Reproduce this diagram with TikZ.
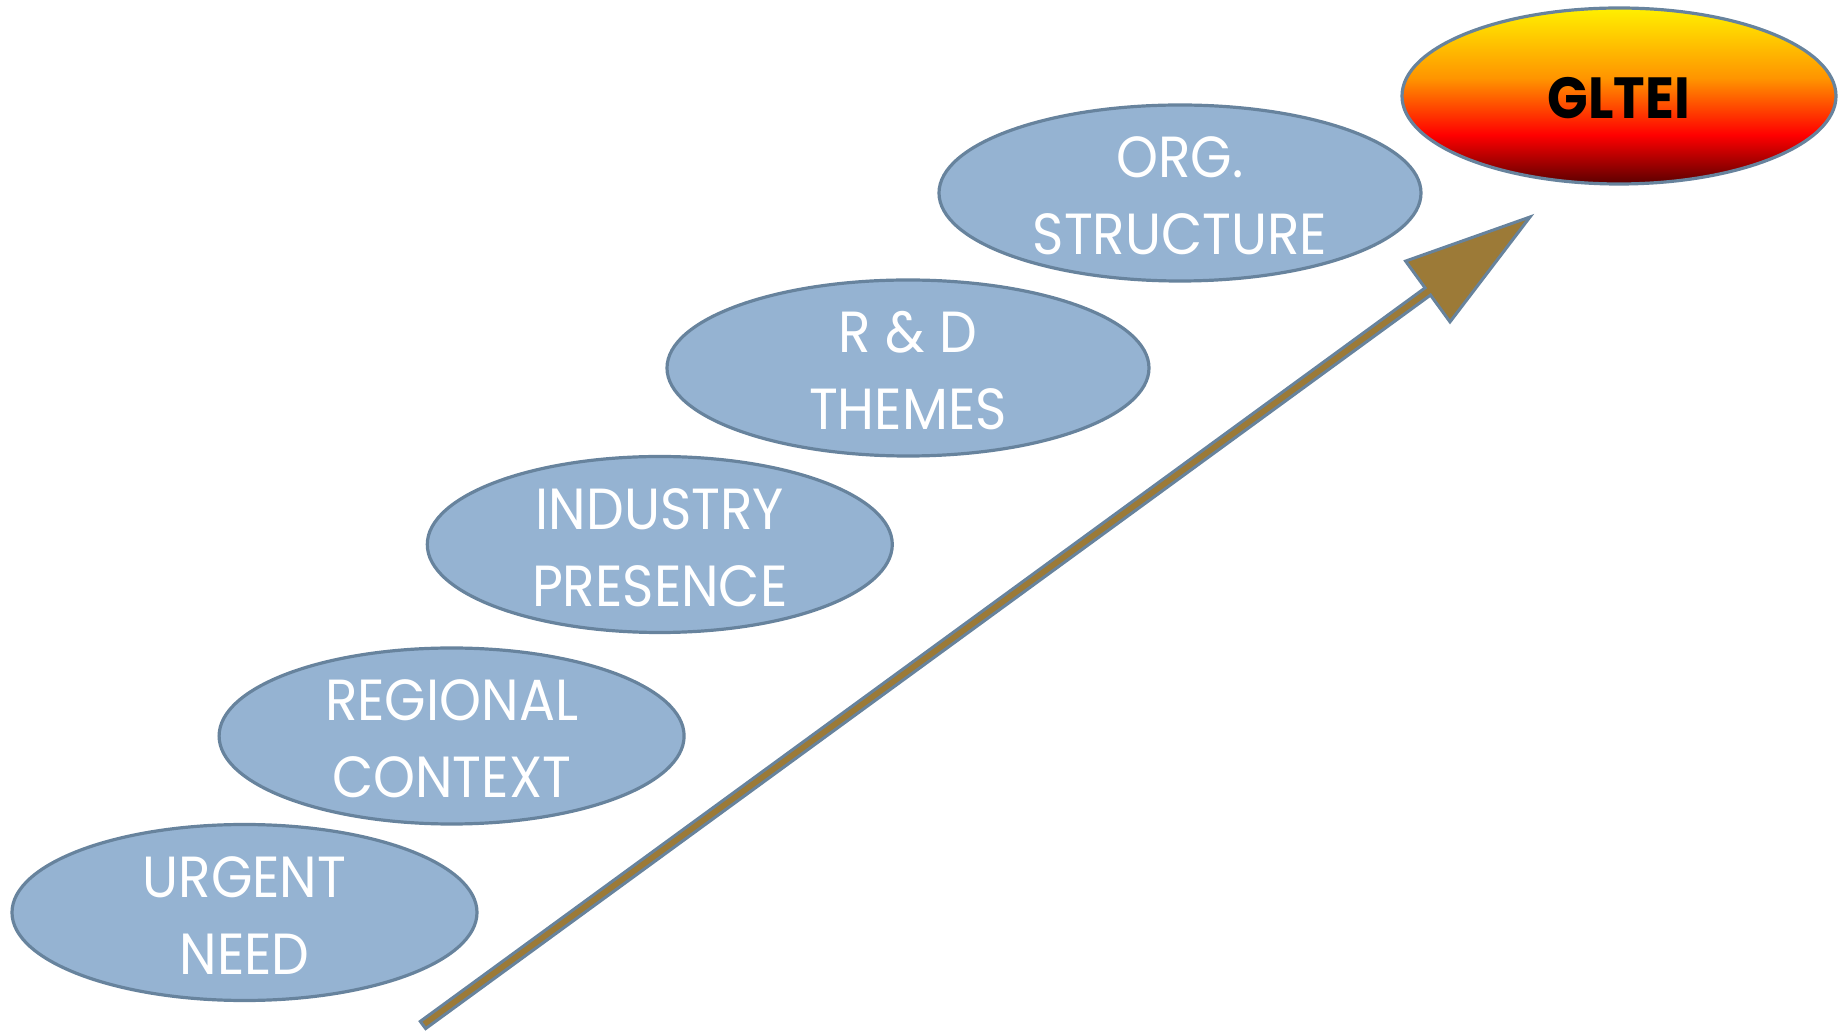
\documentclass[tikz,border=0pt]{standalone}
\usepackage{fontspec}
\setmainfont{Poppins}[FakeStretch=0.92]
\usetikzlibrary{shapes.geometric}
\definecolor{ellfill}{HTML}{95B3D2}
\definecolor{ellline}{HTML}{67839D}
\definecolor{arrfill}{HTML}{9C7A37}
\definecolor{gdark}{HTML}{5A0000}
\definecolor{gred}{HTML}{FF0000}
\definecolor{gorange}{HTML}{FF9400}
\definecolor{gyellow}{HTML}{FFF000}
\pgfdeclareverticalshading{glteishade}{100bp}{color(0bp)=(gdark); color(25bp)=(gdark); color(39bp)=(gred); color(55bp)=(gorange); color(75bp)=(gyellow); color(100bp)=(gyellow)}
\tikzset{
  stage/.style={ellipse, draw=ellline, line width=1.6pt, fill=ellfill,
    minimum width=232.5pt, minimum height=88pt, inner sep=0pt},
  stagetext/.style={align=center, text=white, inner sep=0pt, yshift=-1.5pt,
    font=\fontsize{29}{38.5}\selectfont},
  goal/.style={ellipse, draw=ellline, line width=1.6pt, shading=glteishade,
    minimum width=217pt, minimum height=88pt, inner sep=0pt},
  goaltext/.style={inner sep=0pt, text=black, yshift=-1pt, font=\fontsize{29}{34}\selectfont\bfseries},
  growth/.style={draw=ellline, line width=1.5pt, fill=arrfill, line join=miter}
}
\begin{document}
\begin{tikzpicture}[x=0.5pt,y=-0.5pt]
\useasboundingbox (0,0) rectangle (1844,1031);
\node[stage] (s1) at (244.5,912.5) {};
\node[stage] (s2) at (451.6,736) {};
\node[stage] (s3) at (659.8,544.5) {};
\node[stage, minimum width=241pt] (s4) at (908,368) {};
\node[stage, minimum width=241pt] (s5) at (1180,193) {};
\node[goal] (g) at (1619,96) {};
\node[stagetext] (t1) at (s1.center) {URGENT\\NEED};
\node[stagetext] (t2) at (s2.center) {REGIONAL\\CONTEXT};
\node[stagetext] (t3) at (s3.center) {INDUSTRY\\PRESENCE};
\node[stagetext] (t4) at (s4.center) {R \& D\\THEMES};
\node[stagetext] (t5) at (s5.center) {ORG.\\STRUCTURE};
\node[goaltext] (tg) at (g.center) {GLTEI};
\coordinate (a1) at (425.65,1028.6);
\coordinate (a2) at (1430.5,295.1);
\coordinate (a3) at (1450.0,321.9);
\coordinate (a4) at (1530,217);
\coordinate (a5) at (1405.6,261.1);
\coordinate (a6) at (1425.1,287.9);
\coordinate (a7) at (420.3,1021.4);
\draw[growth] (a1) -- (a2) -- (a3) -- (a4) -- (a5) -- (a6) -- (a7) -- cycle;
\end{tikzpicture}
\end{document}
